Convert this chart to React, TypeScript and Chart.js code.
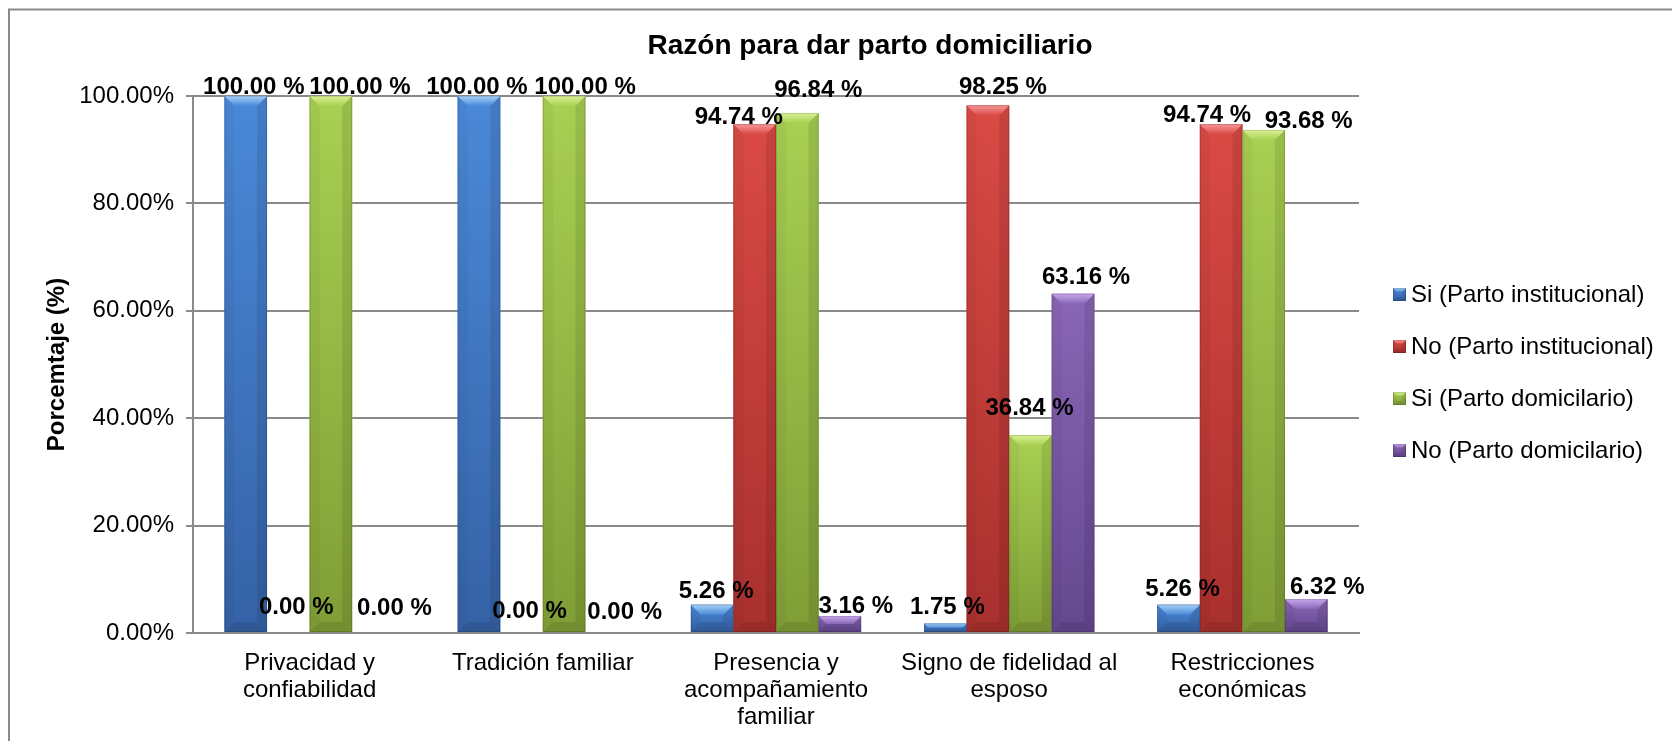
import React, { useEffect, useRef } from 'react';
import { Chart, registerables } from 'chart.js';

Chart.register(...registerables);

const chartTitle = 'Razón para dar parto domiciliario';
const yAxisTitle = 'Porcemtaje (%)';

const categories: string[][] = [
  ['Privacidad y', 'confiabilidad'],
  ['Tradición familiar'],
  ['Presencia y', 'acompañamiento', 'familiar'],
  ['Signo de fidelidad al', 'esposo'],
  ['Restricciones', 'económicas'],
];

const seriesNames = [
  'Si (Parto institucional)',
  'No (Parto institucional)',
  'Si (Parto domicilario)',
  'No (Parto domicilario)',
];

const siInstitucional = [100, 100, 5.26, 1.75, 5.26];
const noInstitucional = [0, 0, 94.74, 98.25, 94.74];
const siDomiciliario = [100, 100, 96.84, 36.84, 93.68];
const noDomiciliario = [0, 0, 3.16, 63.16, 6.32];

const yTickValues = [0, 20, 40, 60, 80, 100];

// label nudges (px) relative to the default "above bar end" position, as placed in the original
const labelDxSiInst = [8, -2, 4, 2, 4];
const labelDySiInst = [6, 6, 2, -1, 0];
const labelDxNoInst = [8, 8, -16, 15, -14];
const labelDyNoInst = [-11, -7, 8, -3, 6];
const labelDxSiDom = [29, 21, 21, -1, 45];
const labelDySiDom = [6, 6, -8, -12, 6];
const labelDxNoDom = [21, 18, 16, 13, 21];
const labelDyNoDom = [-10, -6, 5, -1, 3];

const FONT = '"Liberation Sans", Arial, Helvetica, sans-serif';

type Pal = { top: string; bottom: string; bevel: string; base: string };
const palettes: Pal[] = [
  { base: '#4079c4', top: '#4a89d8', bottom: '#3562a6', bevel: '#a6d0f7' },
  { base: '#c83d3a', top: '#da4a45', bottom: '#a8302d', bevel: '#f7999a' },
  { base: '#97bd48', top: '#a8d052', bottom: '#7f9e36', bevel: '#dcf296' },
  { base: '#7b5aa5', top: '#8a66b6', bottom: '#654890', bevel: '#c6a8ec' },
];

function drawBevelBar(ctx: CanvasRenderingContext2D, l: number, r: number, t: number, bot: number, pal: Pal, bevelSize: number) {
  const h = bot - t;
  const w = r - l;
  if (h < 0.5 || w < 1) return;
  const b = Math.min(bevelSize, h / 2, w / 2);
  ctx.save();
  // face
  const g = ctx.createLinearGradient(0, t, 0, bot);
  g.addColorStop(0, pal.top);
  g.addColorStop(1, pal.bottom);
  ctx.fillStyle = g;
  ctx.fillRect(l, t, w, h);
  // left bevel
  ctx.beginPath();
  ctx.moveTo(l, t); ctx.lineTo(l + b, t + b); ctx.lineTo(l + b, bot - b); ctx.lineTo(l, bot); ctx.closePath();
  ctx.fillStyle = 'rgba(0,0,0,0.035)';
  ctx.fill();
  // right bevel
  ctx.beginPath();
  ctx.moveTo(r, t); ctx.lineTo(r - b, t + b); ctx.lineTo(r - b, bot - b); ctx.lineTo(r, bot); ctx.closePath();
  ctx.fillStyle = 'rgba(0,0,0,0.09)';
  ctx.fill();
  // bottom bevel
  ctx.beginPath();
  ctx.moveTo(l, bot); ctx.lineTo(l + b, bot - b); ctx.lineTo(r - b, bot - b); ctx.lineTo(r, bot); ctx.closePath();
  ctx.fillStyle = 'rgba(0,0,0,0.1)';
  ctx.fill();
  // top bevel
  ctx.beginPath();
  ctx.moveTo(l, t); ctx.lineTo(r, t); ctx.lineTo(r - b, t + b); ctx.lineTo(l + b, t + b); ctx.closePath();
  const gt = ctx.createLinearGradient(0, t, 0, t + b);
  gt.addColorStop(0, pal.bevel);
  gt.addColorStop(1, pal.top);
  ctx.fillStyle = gt;
  ctx.fill();
  // thin edge outline
  ctx.strokeStyle = 'rgba(0,0,0,0.14)';
  ctx.lineWidth = 1;
  ctx.strokeRect(l + 0.5, t + 0.5, w - 1, h - 1);
  ctx.restore();
}

const decorPlugin = {
  id: 'decor',
  beforeDraw(chart: any) {
    const ctx: CanvasRenderingContext2D = chart.ctx;
    ctx.save();
    ctx.fillStyle = '#ffffff';
    ctx.fillRect(0, 0, chart.width, chart.height);
    ctx.strokeStyle = '#8a8a8a';
    ctx.lineWidth = 2;
    ctx.strokeRect(9, 9.5, chart.width + 100, chart.height + 100);
    ctx.restore();
  },
  afterDatasetsDraw(chart: any) {
    const ctx: CanvasRenderingContext2D = chart.ctx;
    const dxs = [labelDxSiInst, labelDxNoInst, labelDxSiDom, labelDxNoDom];
    const dys = [labelDySiInst, labelDyNoInst, labelDySiDom, labelDyNoDom];
    chart.data.datasets.forEach((ds: any, di: number) => {
      const meta = chart.getDatasetMeta(di);
      meta.data.forEach((el: any) => {
        const p = el.getProps(['x', 'y', 'base', 'width'], true);
        const l = p.x - p.width / 2;
        const r = p.x + p.width / 2;
        const t = Math.min(p.y, p.base);
        const bot = Math.max(p.y, p.base);
        drawBevelBar(ctx, l, r, t, bot, palettes[di], 10);
      });
    });
    // data labels
    ctx.save();
    ctx.font = `bold 24px ${FONT}`;
    ctx.fillStyle = '#000000';
    ctx.textAlign = 'center';
    ctx.textBaseline = 'middle';
    chart.data.datasets.forEach((ds: any, di: number) => {
      const meta = chart.getDatasetMeta(di);
      meta.data.forEach((el: any, i: number) => {
        const p = el.getProps(['x', 'y'], true);
        const v = ds.data[i] as number;
        const txt = v.toFixed(2) + ' %';
        ctx.fillText(txt, p.x + dxs[di][i], p.y - 16 + dys[di][i] + 1);
      });
    });
    ctx.restore();
  },
  afterDraw(chart: any) {
    const ctx: CanvasRenderingContext2D = chart.ctx;
    const area = chart.chartArea;
    ctx.save();
    // title
    ctx.font = `bold 28px ${FONT}`;
    ctx.fillStyle = '#000000';
    ctx.textAlign = 'center';
    ctx.textBaseline = 'alphabetic';
    ctx.fillText(chartTitle, 870, 54);
    // y axis title
    ctx.save();
    ctx.translate(64, (area.top + area.bottom) / 2);
    ctx.rotate(-Math.PI / 2);
    ctx.font = `bold 24px ${FONT}`;
    ctx.textAlign = 'center';
    ctx.textBaseline = 'alphabetic';
    ctx.fillText(yAxisTitle, 0, 0);
    ctx.restore();
    // legend
    const cx = area.right + 34;
    const cy = (area.top + area.bottom) / 2 + 8;
    const rowH = 52;
    ctx.font = `24px ${FONT}`;
    ctx.textAlign = 'left';
    ctx.textBaseline = 'middle';
    seriesNames.forEach((name, i) => {
      const y = cy + (i - (seriesNames.length - 1) / 2) * rowH;
      drawBevelBar(ctx, cx, cx + 13, y - 6.5, y + 6.5, palettes[i], 4);
      ctx.fillStyle = '#000000';
      ctx.fillText(name, cx + 18, y + 1);
    });
    ctx.restore();
  },
};

export default function App() {
  const canvasRef = useRef<HTMLCanvasElement | null>(null);

  useEffect(() => {
    const canvas = canvasRef.current;
    if (!canvas) return;
    const seriesData = [siInstitucional, noInstitucional, siDomiciliario, noDomiciliario];
    const chart = new Chart(canvas, {
      type: 'bar',
      data: {
        labels: categories,
        datasets: seriesData.map((d, i) => ({
          label: seriesNames[i],
          data: d,
          backgroundColor: palettes[i].base,
          borderWidth: 0,
          barPercentage: 1,
          categoryPercentage: 0.73,
        })),
      },
      options: {
        responsive: false,
        animation: false,
        devicePixelRatio: 1,
        layout: { padding: { top: 96, left: 0, right: 313, bottom: 0 } },
        plugins: {
          legend: { display: false },
          title: { display: false },
          tooltip: { enabled: false },
        },
        scales: {
          x: {
            grid: { display: false },
            border: { display: true, color: '#8a8a8a', width: 2 },
            ticks: {
              color: '#000000',
              font: { family: FONT, size: 24, lineHeight: 1.12 },
              padding: 9,
              maxRotation: 0,
              autoSkip: false,
            },
            afterFit: (scale: any) => { scale.height = 108; },
          },
          y: {
            min: 0,
            max: 100,
            afterBuildTicks: (scale: any) => { scale.ticks = yTickValues.map((v) => ({ value: v })); },
            grid: { color: '#8a8a8a', lineWidth: 2, tickLength: 7, drawTicks: true },
            border: { display: true, color: '#8a8a8a', width: 2 },
            ticks: {
              color: '#000000',
              font: { family: FONT, size: 24 },
              padding: 12,
              callback: (v: any) => Number(v).toFixed(2) + '%',
            },
            afterFit: (scale: any) => { scale.width = 193; },
          },
        },
      },
      plugins: [decorPlugin],
    });
    return () => chart.destroy();
  }, []);

  return (
    <div style={{ position: 'fixed', left: 0, top: 0, width: 1672, height: 741, overflow: 'hidden', background: '#fff' }}>
      <canvas ref={canvasRef} width={1672} height={741} style={{ display: 'block', width: 1672, height: 741 }} />
    </div>
  );
}
